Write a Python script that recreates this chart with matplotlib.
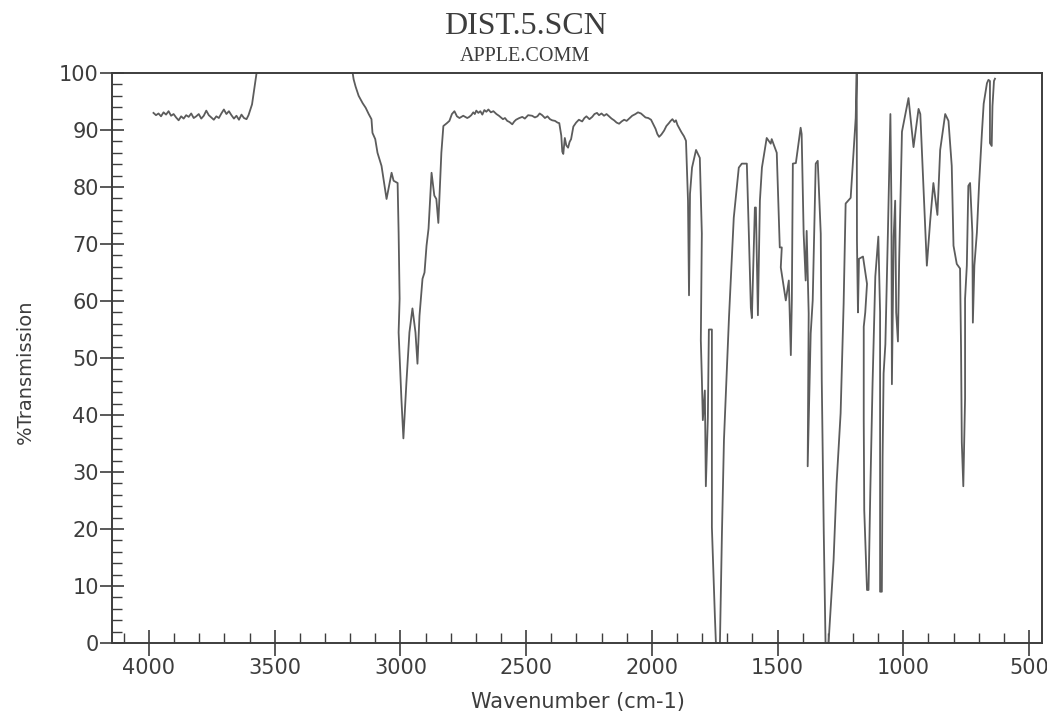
import matplotlib
matplotlib.use("Agg")
import matplotlib.pyplot as plt

# IR trace, high to low wavenumber (cm-1) / % transmission
wn_noise = [3982, 3972, 3962, 3952, 3942, 3932, 3922, 3912, 3902, 3892, 3882, 3872,
            3862, 3852, 3842, 3832, 3822, 3812, 3802, 3792, 3782, 3772, 3762, 3752,
            3742, 3732, 3722, 3712, 3702, 3692, 3682, 3672, 3662, 3652, 3642, 3632,
            3622, 3612, 3604, 3590, 3572, 3560]
t_noise = [93.0, 92.6, 92.9, 92.4, 93.1, 92.7, 93.3, 92.5, 92.8, 92.2, 91.7, 92.4,
           92.0, 92.6, 92.3, 92.9, 92.1, 92.4, 92.8, 92.0, 92.5, 93.4, 92.6, 92.2,
           91.8, 92.4, 92.1, 92.9, 93.6, 92.8, 93.3, 92.6, 92.0, 92.5, 91.8, 92.7,
           92.1, 91.9, 92.6, 94.5, 100.0, 103.0]

wn_ch = [3200, 3186, 3178, 3166, 3150, 3138, 3126, 3115, 3111, 3100, 3091, 3075,
         3055, 3035, 3027, 3011, 3007, 3003, 3007, 2996, 2988, 2976, 2964, 2952,
         2940, 2932, 2924, 2912, 2904, 2896, 2888, 2876, 2865, 2857, 2849, 2837,
         2829, 2815, 2805, 2795, 2785, 2775, 2765, 2750, 2734]
t_ch = [103.0, 98.9, 97.6, 96.0, 94.7, 93.9, 92.8, 91.9, 89.5, 88.4, 86.0, 83.7,
        77.9, 82.5, 81.1, 80.7, 72.0, 60.4, 54.5, 42.9, 35.9, 45.7, 54.5, 58.7,
        54.5, 49.0, 57.4, 63.9, 65.0, 69.7, 72.7, 82.5, 78.5, 77.9, 73.7, 86.0,
        90.7, 91.2, 91.6, 92.8, 93.3, 92.4, 92.1, 92.5, 92.1]

wn_flat = [2726, 2718, 2710, 2704, 2698, 2690, 2682, 2674, 2666, 2658, 2650, 2640,
           2630, 2618, 2608, 2600, 2592, 2584, 2575, 2566, 2555, 2547, 2540, 2527,
           2515, 2505, 2492, 2476, 2465, 2455, 2446, 2436, 2425, 2415, 2405, 2396,
           2385, 2375, 2368, 2360, 2356, 2352, 2346, 2340, 2333, 2327, 2321, 2312,
           2301, 2290, 2277, 2268, 2260, 2248, 2237, 2228, 2218, 2210, 2200, 2190,
           2180, 2170, 2160, 2150, 2140, 2130, 2120, 2110, 2100, 2090, 2078, 2065,
           2055, 2043, 2033, 2025, 2014, 2003, 1994, 1985, 1978, 1971, 1962, 1951,
           1942, 1932, 1925, 1918, 1910, 1904, 1898, 1892, 1882, 1872]
t_flat = [92.3, 92.6, 93.1, 92.8, 93.4, 93.0, 93.3, 92.7, 93.5, 93.2, 93.6, 93.1,
          93.3, 92.8, 92.5, 92.2, 91.9, 92.1, 91.6, 91.4, 91.0, 91.5, 91.8, 92.1,
          92.3, 92.0, 92.6, 92.5, 92.2, 92.4, 92.9, 92.6, 92.1, 92.4, 91.9, 91.7,
          91.6, 91.3, 91.2, 89.0, 86.2, 85.8, 88.6, 87.3, 86.9, 87.9, 88.4, 90.6,
          91.3, 91.8, 91.5, 92.1, 92.4, 91.9, 92.3, 92.8, 93.0, 92.6, 92.9, 92.5,
          92.8, 92.4, 92.0, 91.7, 91.3, 91.1, 91.5, 91.8, 91.6, 92.0, 92.5, 92.8,
          93.1, 92.9, 92.5, 92.2, 92.1, 91.8, 91.0, 90.2, 89.3, 88.8, 89.2, 89.9,
          90.7, 91.2, 91.6, 91.9, 91.4, 91.7, 90.9, 90.4, 89.6, 88.9]

wn_fp1 = [1864, 1856, 1852, 1848, 1840, 1824, 1809, 1801, 1805, 1801, 1797, 1789,
          1785, 1777, 1773, 1761, 1761, 1761, 1749, 1745, 1729, 1721, 1713, 1693,
          1674, 1654, 1642, 1622, 1614, 1606, 1602, 1590, 1586, 1578, 1570, 1562, 1543]
t_fp1 = [88.1, 77.6, 61.0, 78.8, 83.4, 86.5, 85.1, 71.8, 53.1, 46.6, 39.1, 44.3,
         27.5, 39.6, 55.0, 55.0, 35.0, 20.3, 4.6, 0.0, 0.0, 19.3, 35.6, 57.1,
         74.6, 83.4, 84.1, 84.1, 71.8, 58.8, 57.0, 76.4, 76.4, 57.5, 77.6, 83.4, 88.6]

wn_fp2 = [1527, 1523, 1503, 1491, 1483, 1487, 1467, 1455, 1447, 1443, 1439, 1427,
          1408, 1404, 1396, 1388, 1384, 1376, 1380, 1368, 1360, 1348, 1340, 1328,
          1324, 1316, 1309, 1297, 1277, 1265, 1249, 1237, 1229, 1209, 1189, 1185]
t_fp2 = [87.6, 88.4, 86.0, 69.4, 69.4, 65.9, 60.1, 63.6, 50.5, 60.1, 84.1, 84.2,
         90.4, 89.3, 71.8, 63.6, 72.3, 57.8, 31.0, 54.3, 60.1, 84.1, 84.6, 71.8,
         46.1, 19.3, 0.0, 0.0, 14.5, 28.0, 40.3, 59.5, 77.1, 78.1, 92.1, 100.0]

wn_fp3 = [1184, 1180, 1176, 1160, 1144, 1151, 1157, 1157, 1155, 1144, 1138, 1131,
          1122, 1111, 1099, 1092, 1092, 1092, 1085, 1082, 1078, 1071, 1061, 1051,
          1047, 1045, 1038, 1032, 1028, 1021, 1016, 1005, 979, 959, 939, 932, 906,
          893, 880, 864, 853, 833]
t_fp3 = [70.6, 58.0, 67.4, 67.8, 63.0, 58.0, 55.5, 39.1, 23.3, 9.3, 9.3, 26.4,
         45.4, 64.3, 71.3, 58.0, 32.7, 9.0, 9.0, 32.7, 47.3, 52.4, 71.8, 92.8,
         77.0, 45.4, 71.3, 77.6, 58.0, 52.9, 67.4, 89.7, 95.6, 87.0, 93.7, 92.8, 66.2,
         73.9, 80.7, 75.1, 86.5, 92.8]

wn_low = [820, 807, 800, 787, 774, 770, 767, 761, 754, 754, 747, 741, 734, 725,
          723, 717, 707, 698, 687, 680, 667, 661, 655, 655, 648, 645, 639, 635]
t_low = [91.6, 83.7, 69.7, 66.5, 65.7, 51.7, 35.2, 27.5, 42.9, 60.4, 66.2, 80.2,
         80.7, 72.0, 56.2, 66.2, 72.0, 80.7, 89.5, 94.6, 98.2, 98.8, 98.6, 87.7,
         87.2, 94.2, 98.6, 99.0]

x_major = [4000, 3500, 3000, 2500, 2000, 1500, 1000, 500]
x_minor = list(range(4100, 450, -100))
y_major = [0, 10, 20, 30, 40, 50, 60, 70, 80, 90, 100]
y_minor = list(range(0, 101, 2))

wn = wn_noise + wn_ch + wn_flat + wn_fp1 + wn_fp2 + wn_fp3 + wn_low
pct = t_noise + t_ch + t_flat + t_fp1 + t_fp2 + t_fp3 + t_low

ink = "#3d3d3d"
fig = plt.figure(figsize=(10.47, 7.15), dpi=100)
ax = fig.add_axes([112 / 1047, 72 / 715, 930 / 1047, 570 / 715])

ax.plot(wn, pct, color="#5c5c5c", lw=1.3)

ax.set_xlim(4147, 448)
ax.set_ylim(0, 100)

ax.set_xticks(x_major)
ax.set_xticks(x_minor, minor=True)
ax.set_yticks(y_major)
ax.set_yticks(y_minor, minor=True)

for s in ax.spines.values():
    s.set_color(ink)
    s.set_linewidth(1.4)

ax.tick_params(axis="x", which="major", direction="inout", length=19, width=1.2,
               color=ink, labelsize=15, labelcolor=ink, pad=1)
ax.tick_params(axis="x", which="minor", direction="in", length=7, width=1.0, color=ink)
ax.tick_params(axis="y", which="major", direction="inout", length=17, width=1.2,
               color=ink, labelsize=15, labelcolor=ink, pad=1)
ax.tick_params(axis="y", which="minor", direction="in", length=7, width=1.0, color=ink)

fig.text(0.5015, 0.952, "DIST.5.SCN", ha="center", va="baseline",
         family="Liberation Serif", fontsize=23, color=ink)
fig.text(0.5015, 0.915, "APPLE.COMM", ha="center", va="baseline",
         family="Liberation Serif", fontsize=14.5, color=ink)
fig.text(578 / 1047, 1 - 702 / 715, "Wavenumber (cm-1)", ha="center", va="center",
         fontsize=15, color=ink)
fig.text(25 / 1047, 1 - 372 / 715, "%Transmission", ha="center", va="center",
         rotation=90, fontsize=14, color=ink)

fig.savefig("out.png", dpi=100)
